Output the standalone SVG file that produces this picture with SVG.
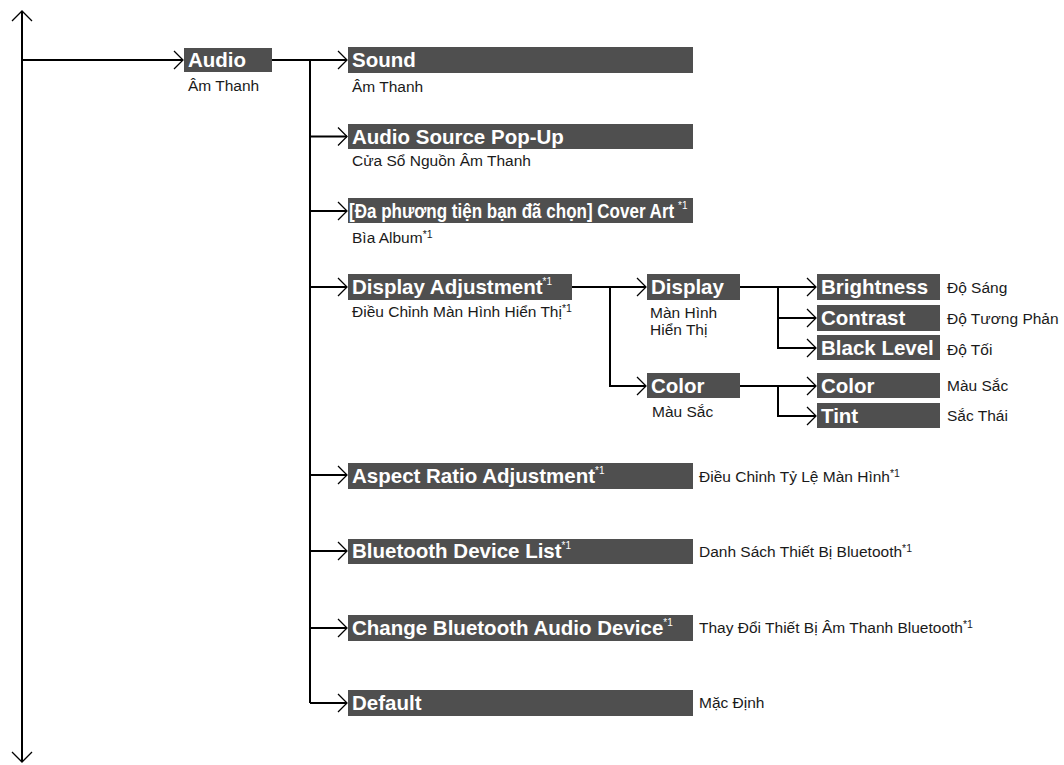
<svg xmlns="http://www.w3.org/2000/svg" width="1064" height="765" viewBox="0 0 1064 765">
  <style>
    .box { fill: #4f4f4f; }
    .bt { font-family: "Liberation Sans", Arial, sans-serif; font-weight: bold; font-size: 20.5px; fill: #ffffff; }
    .bs { font-family: "Liberation Sans", Arial, sans-serif; font-weight: normal; font-size: 10px; fill: #ffffff; }
    .lb { font-family: "Liberation Sans", Arial, sans-serif; font-size: 15.5px; fill: #1a1a1a; }
    .ls { font-size: 10.5px; }
    .ln { fill: none; stroke: #000000; stroke-width: 2; }
    .hd { fill: none; stroke: #000000; stroke-width: 1.3; }
  </style>
  <rect width="1064" height="765" fill="#ffffff"/>

  <!-- connectors -->
  <g id="connectors">
    <!-- main trunk with open heads at both ends -->
    <path class="ln" d="M22,11 V762"/>
    <path class="hd" d="M12,21 L22,11 L32,21"/>
    <path class="hd" d="M12,752 L22,762 L32,752"/>
    <!-- trunk to Audio -->
    <path class="ln" d="M22,60 H183"/>
    <path class="hd" d="M174,51 L183,60 L174,69"/>
    <!-- Audio branch -->
    <path class="ln" d="M272,60 H347"/>
    <path class="ln" d="M310,60 V703"/>
    <path class="ln" d="M310,136.5 H347"/>
    <path class="ln" d="M310,211 H347"/>
    <path class="ln" d="M310,287 H347"/>
    <path class="ln" d="M310,475 H347"/>
    <path class="ln" d="M310,551 H347"/>
    <path class="ln" d="M310,628 H347"/>
    <path class="ln" d="M310,703 H347"/>
    <path class="hd" d="M338,51 L347,60 L338,69"/>
    <path class="hd" d="M338,127.5 L347,136.5 L338,145.5"/>
    <path class="hd" d="M338,202 L347,211 L338,220"/>
    <path class="hd" d="M338,278 L347,287 L338,296"/>
    <path class="hd" d="M338,466 L347,475 L338,484"/>
    <path class="hd" d="M338,542 L347,551 L338,560"/>
    <path class="hd" d="M338,619 L347,628 L338,637"/>
    <path class="hd" d="M338,694 L347,703 L338,712"/>
    <!-- Display Adjustment branch -->
    <path class="ln" d="M572,287 H646"/>
    <path class="ln" d="M610,287 V386 H646"/>
    <path class="hd" d="M637,278 L646,287 L637,296"/>
    <path class="hd" d="M637,377 L646,386 L637,395"/>
    <!-- Display branch -->
    <path class="ln" d="M740,287 H816"/>
    <path class="ln" d="M778,287 V348 H816"/>
    <path class="ln" d="M778,318 H816"/>
    <path class="hd" d="M807,278 L816,287 L807,296"/>
    <path class="hd" d="M807,309 L816,318 L807,327"/>
    <path class="hd" d="M807,339 L816,348 L807,357"/>
    <!-- Color branch -->
    <path class="ln" d="M740,386 H816"/>
    <path class="ln" d="M778,386 V416 H816"/>
    <path class="hd" d="M807,377 L816,386 L807,395"/>
    <path class="hd" d="M807,407 L816,416 L807,425"/>
  </g>

  <g id="audio">
    <rect class="box" x="184" y="48" width="88" height="24"/>
    <text class="bt" x="188" y="67">Audio</text>
    <text class="lb" x="188" y="91">Âm Thanh</text>
  </g>

  <g id="sound">
    <rect class="box" x="348" y="47" width="345" height="26"/>
    <text class="bt" x="352" y="67">Sound</text>
    <text class="lb" x="352" y="92">Âm Thanh</text>
  </g>

  <g id="audio-source-popup">
    <rect class="box" x="348" y="124" width="345" height="25"/>
    <text class="bt" x="352" y="143.5">Audio Source Pop-Up</text>
    <text class="lb" x="352" y="166">Cửa Sổ Nguồn Âm Thanh</text>
  </g>

  <g id="cover-art">
    <rect class="box" x="348" y="198" width="345" height="25"/>
    <!-- narrow title: horizontally condensed to fit the bar -->
    <text class="bt" transform="translate(349,218) scale(0.83,1)">[Đa phương tiện bạn đã chọn] Cover Art</text>
    <text class="bs" x="678" y="209">*1</text>
    <text class="lb" x="352" y="243">Bìa Album<tspan class="ls" dy="-5">*1</tspan></text>
  </g>

  <g id="display-adjustment">
    <rect class="box" x="348" y="274" width="224" height="26"/>
    <text class="bt" x="352" y="294">Display Adjustment<tspan class="bs" dy="-9">*1</tspan></text>
    <text class="lb" x="352" y="317">Điều Chỉnh Màn Hình Hiển Thị<tspan class="ls" dy="-5">*1</tspan></text>
  </g>

  <g id="display">
    <rect class="box" x="647" y="274" width="93" height="26"/>
    <text class="bt" x="651" y="294">Display</text>
    <text class="lb" x="650" y="318">Màn Hình</text>
    <text class="lb" x="650" y="335">Hiển Thị</text>
  </g>

  <g id="brightness">
    <rect class="box" x="817" y="274" width="123" height="26"/>
    <text class="bt" x="821" y="294">Brightness</text>
    <text class="lb" x="947" y="293">Độ Sáng</text>
  </g>

  <g id="contrast">
    <rect class="box" x="817" y="305" width="123" height="26"/>
    <text class="bt" x="821" y="325">Contrast</text>
    <text class="lb" x="947" y="324">Độ Tương Phản</text>
  </g>

  <g id="black-level">
    <rect class="box" x="817" y="335" width="123" height="25"/>
    <text class="bt" x="821" y="355">Black Level</text>
    <text class="lb" x="947" y="355">Độ Tối</text>
  </g>

  <g id="color">
    <rect class="box" x="647" y="373" width="93" height="25"/>
    <text class="bt" x="651" y="393">Color</text>
    <text class="lb" x="652" y="417">Màu Sắc</text>
  </g>

  <g id="color-sub">
    <rect class="box" x="817" y="373" width="123" height="25"/>
    <text class="bt" x="821" y="393">Color</text>
    <text class="lb" x="947" y="391">Màu Sắc</text>
  </g>

  <g id="tint">
    <rect class="box" x="817" y="403" width="123" height="25"/>
    <text class="bt" x="821" y="423">Tint</text>
    <text class="lb" x="947" y="421">Sắc Thái</text>
  </g>

  <g id="aspect-ratio">
    <rect class="box" x="348" y="463" width="345" height="26"/>
    <text class="bt" x="352" y="483">Aspect Ratio Adjustment<tspan class="bs" dy="-9">*1</tspan></text>
    <text class="lb" x="699" y="482">Điều Chỉnh Tỷ Lệ Màn Hình<tspan class="ls" dy="-5">*1</tspan></text>
  </g>

  <g id="bluetooth-device-list">
    <rect class="box" x="348" y="539" width="345" height="25"/>
    <text class="bt" x="352" y="558">Bluetooth Device List<tspan class="bs" dy="-9">*1</tspan></text>
    <text class="lb" x="699" y="557">Danh Sách Thiết Bị Bluetooth<tspan class="ls" dy="-5">*1</tspan></text>
  </g>

  <g id="change-bluetooth-audio-device">
    <rect class="box" x="348" y="615" width="345" height="26"/>
    <text class="bt" x="352" y="635">Change Bluetooth Audio Device<tspan class="bs" dy="-9">*1</tspan></text>
    <text class="lb" x="699" y="633">Thay Đổi Thiết Bị Âm Thanh Bluetooth<tspan class="ls" dy="-5">*1</tspan></text>
  </g>

  <g id="default">
    <rect class="box" x="348" y="690" width="345" height="26"/>
    <text class="bt" x="352" y="710">Default</text>
    <text class="lb" x="699" y="708">Mặc Định</text>
  </g>
</svg>
